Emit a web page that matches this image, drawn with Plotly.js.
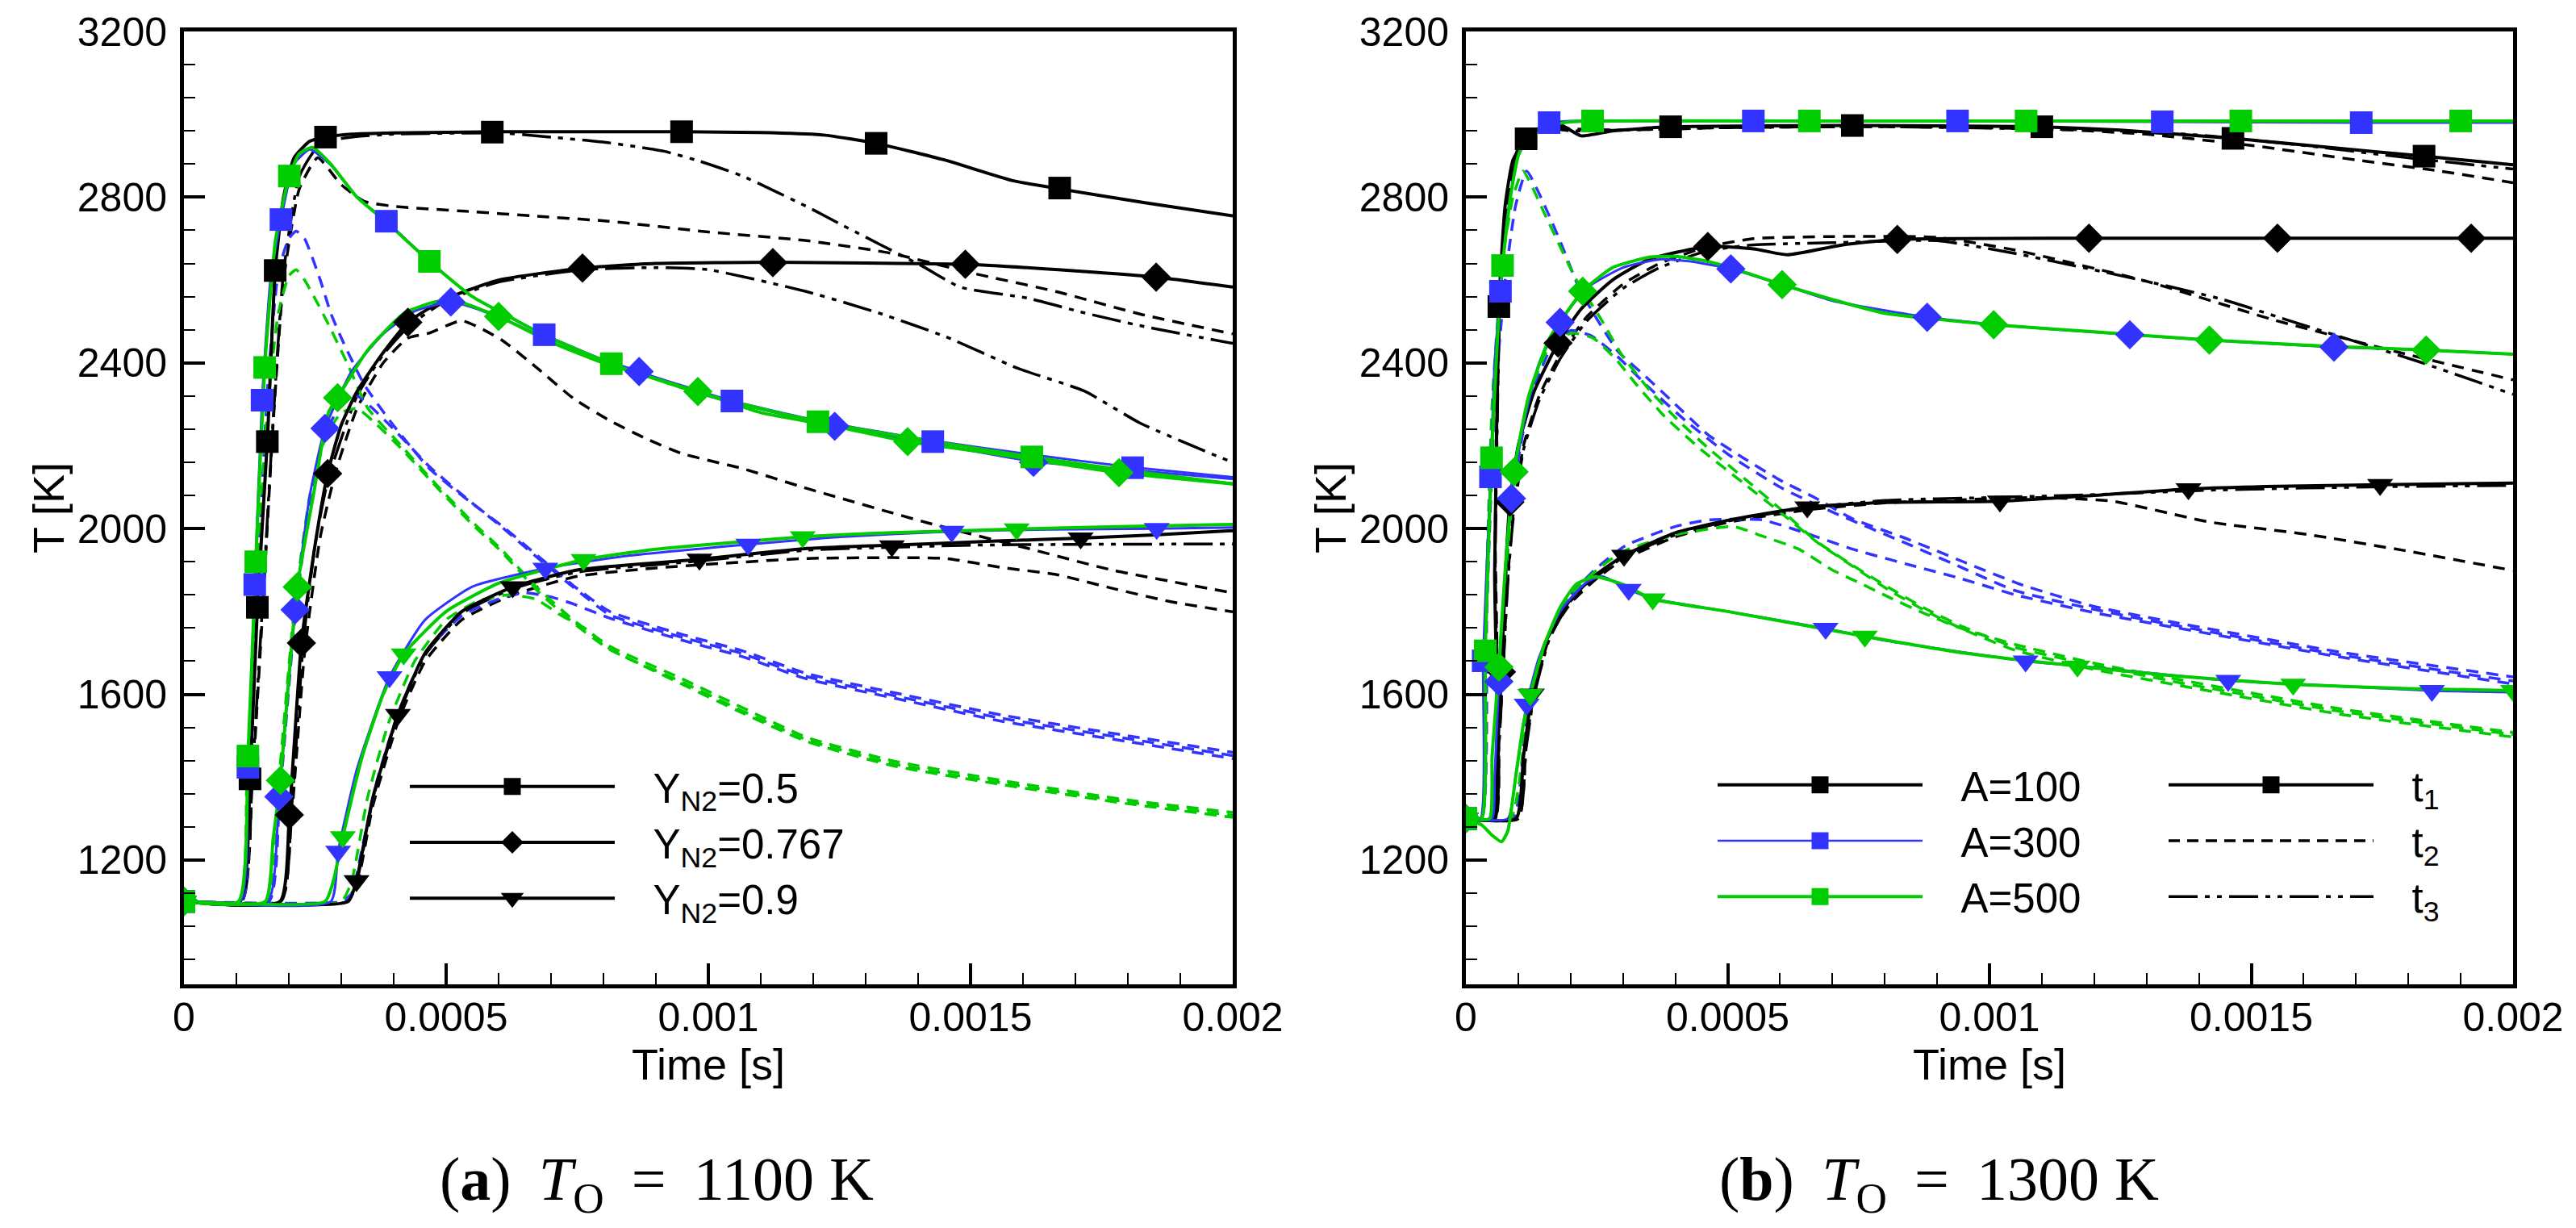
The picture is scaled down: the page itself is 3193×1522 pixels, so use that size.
<!DOCTYPE html>
<html><head><meta charset="utf-8">
<script src="https://cdn.plot.ly/plotly-3.0.1.min.js"></script>
<style>html,body{margin:0;padding:0;background:#fff;}#chart{width:3193px;height:1522px;}</style>
</head><body><div id="chart"></div>
<script>
// ===== Panel (a): T_O = 1100 K =====
// A=100 (black)
const a_k_sq_t1_x = [0,1.07e-4,1.26e-4,1.40e-4,1.59e-4,1.74e-4,1.9e-4,2.1e-4,2.4e-4,2.7e-4,3.2e-4,4e-4,6e-4,8e-4,9.5e-4,11e-4,12.2e-4,13.2e-4,14.5e-4,15.8e-4,16.7e-4,18.3e-4,20e-4];
const a_k_sq_t1_y = [1100,1100,1396,1810,2210,2623,2800,2895,2935,2945,2952,2955,2958,2958,2958,2956,2950,2930,2890,2840,2820,2787,2755];
const a_k_sq_m_x = [0,1.26e-4,1.40e-4,1.59e-4,1.74e-4,2.7e-4,5.88e-4,9.49e-4,13.2e-4,16.7e-4];
const a_k_sq_m_y = [1100,1396,1810,2210,2623,2945,2957,2958,2930,2822];
const a_k_sq_t2_x = [0,1.1e-4,1.3e-4,1.5e-4,1.7e-4,1.9e-4,2.2e-4,2.55e-4,3.0e-4,3.44e-4,4e-4,5.37e-4,6.74e-4,8.1e-4,10e-4,11.88e-4,13.47e-4,15.06e-4,16.64e-4,18.23e-4,20e-4];
const a_k_sq_t2_y = [1100,1100,1380,1800,2250,2600,2820,2895,2830,2790,2778,2766,2754,2742,2716,2695,2665,2616,2572,2518,2470];
const a_k_sq_t3_x = [0,1.1e-4,1.3e-4,1.5e-4,1.7e-4,1.9e-4,2.2e-4,2.6e-4,3.2e-4,4e-4,6e-4,6.74e-4,8.12e-4,9.15e-4,9.83e-4,10.65e-4,11.93e-4,12.5e-4,14.1e-4,14.8e-4,16.1e-4,17.1e-4,18.23e-4,20e-4];
const a_k_sq_t3_y = [1100,1100,1400,1820,2260,2620,2850,2930,2945,2952,2955,2948,2931,2911,2887,2851,2774,2736,2632,2583,2556,2523,2490,2447];

const a_k_di_t1_x = [0,1.83e-4,2.01e-4,2.24e-4,2.5e-4,2.74e-4,3.0e-4,3.3e-4,3.72e-4,4.27e-4,5e-4,6e-4,7.6e-4,9e-4,11.23e-4,13e-4,14.9e-4,17e-4,18.54e-4,20e-4];
const a_k_di_t1_y = [1100,1100,1309,1724,1960,2133,2250,2331,2411,2498,2555,2600,2629,2640,2643,2641,2638,2622,2607,2583];
const a_k_di_m_x = [0,2.01e-4,2.24e-4,2.74e-4,4.27e-4,7.6e-4,11.23e-4,14.9e-4,18.54e-4];
const a_k_di_m_y = [1100,1309,1724,2133,2498,2629,2642,2638,2607];
const a_k_di_t2_x = [0,1.85e-4,2.05e-4,2.3e-4,2.6e-4,2.9e-4,3.3e-4,3.8e-4,4.27e-4,4.68e-4,5.3e-4,6.05e-4,6.74e-4,7.43e-4,8.1e-4,8.8e-4,9.5e-4,10.65e-4,11.88e-4,14.15e-4,16.1e-4,17.7e-4,20e-4];
const a_k_di_t2_y = [1100,1100,1300,1700,1980,2140,2290,2400,2460,2472,2502,2456,2387,2314,2262,2218,2181,2145,2097,2015,1952,1900,1845];
const a_k_di_t3_x = [0,1.85e-4,2.05e-4,2.28e-4,2.5e-4,2.75e-4,3.3e-4,3.8e-4,4.3e-4,5e-4,6e-4,7.6e-4,9e-4,10e-4,11.88e-4,13.26e-4,14.53e-4,15.9e-4,17.17e-4,18.23e-4,19.72e-4,20e-4];
const a_k_di_t3_y = [1100,1100,1320,1730,1960,2120,2320,2420,2490,2550,2595,2625,2630,2625,2572,2520,2463,2387,2332,2255,2174,2160];

const a_k_tr_t1_x = [0,3.13e-4,3.29e-4,3.6e-4,4.08e-4,4.6e-4,5.3e-4,6.27e-4,7.5e-4,9.83e-4,11.88e-4,13.5e-4,15.5e-4,17.1e-4,18.5e-4,20e-4];
const a_k_tr_t1_y = [1100,1100,1150,1350,1551,1700,1800,1859,1900,1926,1952,1960,1970,1977,1985,1995];
const a_k_tr_m_x = [0,3.29e-4,4.08e-4,6.27e-4,9.83e-4,13.5e-4,17.1e-4];
const a_k_tr_m_y = [1100,1150,1551,1859,1926,1958,1977];
const a_k_tr_t2_x = [0,3.1e-4,3.3e-4,3.6e-4,4.1e-4,4.6e-4,5.3e-4,6.27e-4,7.5e-4,9e-4,10.5e-4,11.88e-4,13.5e-4,14.53e-4,15.6e-4,16.64e-4,17.7e-4,18.8e-4,20e-4];
const a_k_tr_t2_y = [1100,1100,1140,1330,1540,1680,1780,1840,1885,1905,1918,1928,1930,1928,1906,1889,1856,1824,1799];
const a_k_tr_t3_x = [0,3.12e-4,3.3e-4,3.6e-4,4.08e-4,4.6e-4,5.3e-4,6.27e-4,7.5e-4,9.83e-4,11.88e-4,13.5e-4,15e-4,17e-4,20e-4];
const a_k_tr_t3_y = [1100,1100,1150,1345,1548,1695,1795,1855,1895,1922,1948,1955,1960,1962,1963];

// A=300 (blue)
const a_b_sq_t1_x = [0,1.07e-4,1.22e-4,1.35e-4,1.49e-4,1.65e-4,1.85e-4,2.1e-4,2.4e-4,2.8e-4,3.3e-4,3.86e-4,4.68e-4,5.5e-4,6.3e-4,6.87e-4,8.15e-4,9.5e-4,10.45e-4,12.1e-4,14.28e-4,16.2e-4,18.09e-4,20e-4];
const a_b_sq_t1_y = [1100,1100,1424,1865,2310,2600,2746,2880,2915,2878,2800,2742,2645,2560,2505,2468,2400,2345,2308,2260,2212,2178,2148,2124];
const a_b_sq_m_x = [0,1.22e-4,1.35e-4,1.49e-4,1.85e-4,3.86e-4,6.87e-4,10.45e-4,14.28e-4,18.09e-4];
const a_b_sq_m_y = [1100,1424,1865,2310,2746,2742,2468,2308,2210,2147];
const a_b_di_t1_x = [0,1.6e-4,1.81e-4,2.12e-4,2.4e-4,2.69e-4,3.2e-4,3.8e-4,4.4e-4,5.09e-4,5.6e-4,6.3e-4,7.2e-4,8.68e-4,10e-4,12.41e-4,14.28e-4,16.2e-4,18e-4,20e-4];
const a_b_di_t1_y = [1100,1100,1353,1804,2080,2242,2380,2470,2525,2547,2530,2495,2440,2379,2320,2247,2205,2162,2142,2120];
const a_b_di_m_x = [0,1.81e-4,2.12e-4,2.69e-4,5.09e-4,8.68e-4,12.41e-4,16.2e-4];
const a_b_di_m_y = [1100,1353,1804,2242,2547,2379,2247,2160];
const a_b_tr_t1_x = [0,2.8e-4,2.94e-4,3.3e-4,3.92e-4,4.6e-4,5.5e-4,6.89e-4,8.5e-4,10.76e-4,12.5e-4,14.64e-4,16.5e-4,18.55e-4,20e-4];
const a_b_tr_t1_y = [1100,1100,1221,1420,1642,1780,1860,1904,1935,1962,1980,1993,1998,2000,2003];
const a_b_tr_m_x = [0,2.94e-4,3.92e-4,6.89e-4,10.76e-4,14.64e-4,18.55e-4];
const a_b_tr_m_y = [1100,1221,1642,1904,1962,1993,2000];
const a_b_sq_t2_x = [0,1.1e-4,1.25e-4,1.4e-4,1.6e-4,1.8e-4,2.0e-4,2.14e-4,2.3e-4,2.6e-4,2.8e-4,3.03e-4,3.44e-4,3.99e-4,4.68e-4,5.37e-4,6.05e-4,6.74e-4,7.43e-4,8.12e-4,9.49e-4,10.65e-4,11.88e-4,13.5e-4,15.6e-4,18e-4,20e-4];
const a_b_sq_t2_y = [1100,1100,1420,1860,2350,2620,2700,2718,2700,2600,2520,2452,2347,2250,2145,2073,2008,1935,1862,1800,1745,1705,1650,1605,1550,1500,1460];
const a_b_di_t2_x = [0,1.62e-4,1.82e-4,2.12e-4,2.4e-4,2.7e-4,3.0e-4,3.3e-4,3.6e-4,4.0e-4,4.68e-4,5.37e-4,6.05e-4,6.74e-4,7.43e-4,8.12e-4,9.49e-4,10.65e-4,11.88e-4,13.5e-4,15.6e-4,18e-4,20e-4];
const a_b_di_t2_y = [1100,1100,1340,1790,2060,2230,2300,2320,2290,2240,2150,2075,2005,1930,1858,1792,1738,1698,1643,1598,1542,1493,1452];
const a_b_tr_t2_x = [0,3.0e-4,3.2e-4,3.4e-4,3.7e-4,4.1e-4,4.6e-4,5.3e-4,6.0e-4,6.5e-4,7.0e-4,7.43e-4,8.12e-4,9.49e-4,10.65e-4,11.88e-4,13.5e-4,15.6e-4,18e-4,20e-4];
const a_b_tr_t2_y = [1100,1100,1120,1230,1400,1560,1700,1790,1830,1845,1835,1818,1784,1731,1691,1637,1592,1535,1486,1445];

// A=500 (green)
const a_g_sq_t1_x = [0,1.04e-4,1.22e-4,1.37e-4,1.54e-4,1.75e-4,2.01e-4,2.2e-4,2.45e-4,2.8e-4,3.3e-4,3.86e-4,4.68e-4,5.5e-4,6.3e-4,6.9e-4,8.15e-4,9.5e-4,10.5e-4,12.09e-4,14.3e-4,16.17e-4,18e-4,20e-4];
const a_g_sq_t1_y = [1100,1100,1451,1920,2389,2700,2851,2905,2920,2880,2800,2740,2645,2560,2505,2465,2398,2340,2305,2258,2210,2173,2140,2108];
const a_g_sq_m_x = [0,1.22e-4,1.37e-4,1.54e-4,2.01e-4,4.68e-4,8.15e-4,12.09e-4,16.17e-4];
const a_g_sq_m_y = [1100,1451,1920,2389,2851,2645,2398,2258,2173];
const a_g_di_t1_x = [0,1.55e-4,1.7e-4,1.84e-4,2.0e-4,2.16e-4,2.48e-4,2.76e-4,2.93e-4,3.5e-4,4.2e-4,4.82e-4,5.3e-4,6.0e-4,7e-4,8e-4,9.8e-4,11e-4,12.41e-4,13.8e-4,15.5e-4,17.83e-4,20e-4];
const a_g_di_t1_y = [1100,1100,1250,1392,1640,1859,2089,2282,2316,2430,2520,2548,2545,2512,2450,2400,2331,2280,2247,2210,2180,2135,2108];
const a_g_di_m_x = [0,1.84e-4,2.16e-4,2.93e-4,6.0e-4,9.8e-4,13.8e-4,17.83e-4];
const a_g_di_m_y = [1100,1392,1859,2316,2512,2331,2210,2135];
const a_g_tr_t1_x = [0,2.69e-4,2.85e-4,3.03e-4,3.4e-4,3.8e-4,4.19e-4,5e-4,6e-4,7.62e-4,9e-4,11.8e-4,13.5e-4,15.88e-4,18e-4,20e-4];
const a_g_tr_t1_y = [1100,1100,1150,1256,1450,1600,1697,1800,1868,1925,1950,1980,1990,1999,2005,2010];
const a_g_tr_m_x = [0,3.03e-4,4.19e-4,7.62e-4,11.8e-4,15.88e-4];
const a_g_tr_m_y = [1100,1256,1697,1925,1980,1999];
const a_g_sq_t2_x = [0,1.05e-4,1.2e-4,1.4e-4,1.6e-4,1.8e-4,2.0e-4,2.14e-4,2.3e-4,2.48e-4,2.76e-4,3.1e-4,3.51e-4,4.13e-4,4.82e-4,5.5e-4,6.05e-4,6.74e-4,7.43e-4,8.12e-4,9.49e-4,10.65e-4,11.88e-4,13.5e-4,15.6e-4,18e-4,20e-4];
const a_g_sq_t2_y = [1100,1100,1400,1900,2300,2520,2610,2625,2600,2560,2492,2403,2290,2202,2105,2016,1950,1857,1779,1716,1638,1568,1496,1440,1392,1345,1315];
const a_g_di_t2_x = [0,1.58e-4,1.8e-4,2.1e-4,2.4e-4,2.7e-4,3.0e-4,3.3e-4,3.6e-4,4.13e-4,4.82e-4,5.5e-4,6.05e-4,6.74e-4,7.43e-4,8.12e-4,9.49e-4,10.65e-4,11.88e-4,13.5e-4,15.6e-4,18e-4,20e-4];
const a_g_di_t2_y = [1100,1100,1380,1800,2080,2220,2280,2290,2260,2195,2100,2010,1945,1850,1772,1708,1630,1560,1490,1433,1386,1340,1308];
const a_g_tr_t2_x = [0,3.0e-4,3.2e-4,3.5e-4,3.9e-4,4.4e-4,5.0e-4,5.6e-4,6.2e-4,6.7e-4,7.2e-4,7.7e-4,8.12e-4,9.49e-4,10.65e-4,11.88e-4,13.5e-4,15.6e-4,18e-4,20e-4];
const a_g_tr_t2_y = [1100,1100,1150,1350,1530,1680,1780,1825,1840,1830,1790,1755,1710,1625,1555,1486,1428,1382,1336,1303];

// ===== Panel (b): T_O = 1300 K =====
const b_k_sq_t1_x = [0,0.5e-4,0.55e-4,0.63e-4,0.75e-4,0.9e-4,1.15e-4,1.4e-4,1.8e-4,2.2e-4,2.8e-4,3.91e-4,5.5e-4,7.38e-4,9e-4,11e-4,12.5e-4,14.65e-4,16.5e-4,18.3e-4,20e-4];
const b_k_sq_t1_y = [1300,1300,1900,2536,2780,2890,2941,2965,2975,2948,2960,2970,2972,2973,2972,2970,2962,2942,2920,2899,2878];
const b_k_sq_m_x = [0,0.63e-4,1.15e-4,3.91e-4,7.38e-4,11e-4,14.65e-4,18.3e-4];
const b_k_sq_m_y = [1300,2536,2941,2970,2973,2970,2942,2899];
const b_k_sq_t2_x = [0,0.5e-4,0.56e-4,0.65e-4,0.8e-4,1.0e-4,1.2e-4,1.6e-4,2.0e-4,3e-4,5e-4,8e-4,11e-4,13e-4,15e-4,17e-4,18.5e-4,20e-4];
const b_k_sq_t2_y = [1300,1300,2000,2550,2800,2920,2950,2968,2965,2962,2968,2970,2965,2952,2925,2890,2865,2835];
const b_k_sq_t3_x = [0,0.5e-4,0.56e-4,0.65e-4,0.8e-4,1.0e-4,1.2e-4,1.6e-4,2.0e-4,3e-4,5e-4,8e-4,12e-4,14e-4,16e-4,18e-4,20e-4];
const b_k_sq_t3_y = [1300,1300,1950,2540,2790,2910,2945,2965,2960,2962,2968,2970,2962,2950,2925,2895,2868];

const b_k_di_t1_x = [0,0.55e-4,0.62e-4,0.68e-4,0.76e-4,0.84e-4,1.0e-4,1.3e-4,1.76e-4,2.2e-4,2.8e-4,3.5e-4,4.62e-4,5.5e-4,6.14e-4,7.2e-4,8.24e-4,11.9e-4,15.5e-4,19.2e-4,20e-4];
const b_k_di_t1_y = [1300,1300,1500,1654,1900,2064,2200,2330,2448,2530,2600,2650,2681,2675,2661,2685,2698,2701,2701,2701,2701];
const b_k_di_m_x = [0,0.68e-4,0.84e-4,1.76e-4,4.62e-4,8.24e-4,11.9e-4,15.5e-4,19.2e-4];
const b_k_di_m_y = [1300,1654,2064,2448,2681,2698,2701,2701,2701];
const b_k_di_t2_x = [0,0.56e-4,0.63e-4,0.7e-4,0.8e-4,0.9e-4,1.1e-4,1.4e-4,1.8e-4,2.3e-4,3e-4,3.7e-4,4.6e-4,5.5e-4,7e-4,9e-4,10.5e-4,13e-4,15.45e-4,17.9e-4,20e-4];
const b_k_di_t2_y = [1300,1300,1480,1640,1880,2030,2200,2320,2420,2510,2590,2640,2680,2700,2705,2703,2672,2597,2503,2423,2359];
const b_k_di_t3_x = [0,0.56e-4,0.63e-4,0.7e-4,0.8e-4,0.9e-4,1.1e-4,1.4e-4,1.8e-4,2.3e-4,3e-4,3.7e-4,4.6e-4,5.5e-4,7e-4,9e-4,10.5e-4,13e-4,14.46e-4,15.7e-4,18.2e-4,20e-4];
const b_k_di_t3_y = [1300,1300,1470,1630,1870,2020,2190,2310,2410,2500,2580,2630,2670,2685,2690,2695,2664,2597,2553,2503,2403,2324];

const b_k_tr_t1_x = [0,0.96e-4,1.1e-4,1.26e-4,1.5e-4,2.0e-4,2.5e-4,3.02e-4,4e-4,5e-4,6.52e-4,8e-4,10.2e-4,12e-4,13.8e-4,15.5e-4,17.46e-4,20e-4];
const b_k_tr_t1_y = [1300,1300,1450,1600,1720,1830,1890,1935,1990,2020,2052,2063,2066,2080,2096,2102,2106,2110];
const b_k_tr_m_x = [0,1.26e-4,3.02e-4,6.52e-4,10.2e-4,13.8e-4,17.46e-4];
const b_k_tr_m_y = [1300,1600,1935,2052,2066,2096,2106];
const b_k_tr_t2_x = [0,1.0e-4,1.15e-4,1.3e-4,1.6e-4,2.0e-4,2.5e-4,3.0e-4,4e-4,5e-4,6.5e-4,8e-4,10e-4,11e-4,12.36e-4,14.2e-4,16.07e-4,17.93e-4,20e-4];
const b_k_tr_t2_y = [1300,1300,1480,1600,1740,1820,1880,1925,1980,2015,2045,2062,2072,2075,2066,2016,1986,1947,1899];
const b_k_tr_t3_x = [0,1.0e-4,1.15e-4,1.3e-4,1.6e-4,2.0e-4,2.5e-4,3.0e-4,4e-4,5e-4,6.5e-4,8e-4,10e-4,12e-4,14e-4,16e-4,18e-4,20e-4];
const b_k_tr_t3_y = [1300,1300,1470,1595,1735,1825,1885,1930,1985,2018,2050,2068,2075,2082,2092,2098,2102,2104];

const b_b_sq_t1_x = [0,0.28e-4,0.33e-4,0.47e-4,0.55e-4,0.66e-4,0.8e-4,1.0e-4,1.3e-4,1.59e-4,2.0e-4,3e-4,5.49e-4,9.39e-4,13.3e-4,17.1e-4,20e-4];
const b_b_sq_t1_y = [1300,1300,1690,2125,2400,2573,2760,2900,2960,2980,2984,2984,2984,2984,2982,2980,2980];
const b_b_sq_m_x = [0,0.33e-4,0.47e-4,0.66e-4,1.59e-4,5.49e-4,9.39e-4,13.3e-4,17.1e-4];
const b_b_sq_m_y = [1300,1681,2125,2573,2980,2984,2984,2982,2980];
const b_b_di_t1_x = [0,0.5e-4,0.55e-4,0.63e-4,0.75e-4,0.87e-4,1.1e-4,1.4e-4,1.8e-4,2.3e-4,3.0e-4,3.7e-4,4.3e-4,5.06e-4,6.04e-4,7e-4,8.81e-4,10.5e-4,12.68e-4,14.2e-4,16.58e-4,18.34e-4,20e-4];
const b_b_di_t1_y = [1300,1300,1400,1631,1900,2073,2250,2400,2498,2580,2630,2650,2645,2627,2589,2550,2510,2488,2468,2455,2438,2431,2421];
const b_b_di_m_x = [0,0.63e-4,0.87e-4,1.8e-4,5.06e-4,8.81e-4,12.68e-4,16.58e-4];
const b_b_di_m_y = [1300,1631,2073,2498,2627,2510,2468,2438];
const b_b_tr_t1_x = [0,0.8e-4,0.95e-4,1.16e-4,1.4e-4,1.8e-4,2.3e-4,2.6e-4,3.11e-4,3.6e-4,5e-4,6.87e-4,8e-4,10.69e-4,12e-4,14.56e-4,16e-4,18.45e-4,20e-4];
const b_b_tr_t1_y = [1300,1300,1400,1576,1690,1800,1870,1885,1853,1830,1800,1759,1730,1680,1665,1633,1624,1609,1605];
const b_b_tr_m_x = [0,1.16e-4,3.11e-4,6.87e-4,10.69e-4,14.56e-4,18.45e-4];
const b_b_tr_m_y = [1300,1576,1853,1759,1680,1633,1609];
const b_b_sq_t2_x = [0,0.3e-4,0.4e-4,0.55e-4,0.75e-4,0.95e-4,1.16e-4,1.61e-4,1.88e-4,2.16e-4,2.57e-4,2.91e-4,3.4e-4,3.95e-4,4.63e-4,5.32e-4,6.0e-4,6.69e-4,7.38e-4,8.41e-4,9.5e-4,10.6e-4,12e-4,13.6e-4,16.7e-4,20e-4];
const b_b_sq_t2_y = [1300,1300,1800,2300,2600,2780,2863,2750,2669,2581,2492,2427,2371,2306,2226,2169,2117,2073,2024,1976,1920,1865,1812,1772,1702,1642];
const b_b_di_t2_x = [0,0.5e-4,0.63e-4,0.87e-4,1.2e-4,1.6e-4,2.0e-4,2.4e-4,2.9e-4,3.5e-4,4.2e-4,5e-4,6e-4,7e-4,8.4e-4,9.4e-4,10.5e-4,12e-4,13.6e-4,16.7e-4,20e-4];
const b_b_di_t2_y = [1300,1300,1620,2060,2300,2430,2478,2465,2415,2340,2260,2180,2100,2040,1965,1910,1850,1805,1765,1695,1632];
const b_b_tr_t2_x = [0,0.9e-4,1.16e-4,1.5e-4,2.0e-4,2.5e-4,3.05e-4,4e-4,4.63e-4,5.66e-4,6.35e-4,7.4e-4,8.4e-4,9.44e-4,10.5e-4,12e-4,13.6e-4,16.7e-4,20e-4];
const b_b_tr_t2_y = [1300,1300,1560,1720,1840,1905,1959,2005,2021,2021,1995,1950,1915,1880,1840,1797,1760,1690,1625];

const b_g_sq_t1_x = [0,0.3e-4,0.37e-4,0.49e-4,0.6e-4,0.7e-4,0.85e-4,1.0e-4,1.2e-4,1.5e-4,2.0e-4,2.42e-4,6.56e-4,10.7e-4,14.8e-4,19.0e-4,20e-4];
const b_g_sq_t1_y = [1300,1300,1705,2171,2450,2635,2800,2900,2950,2972,2982,2984,2984,2984,2984,2984,2984];
const b_g_sq_m_x = [0,0.37e-4,0.49e-4,0.7e-4,2.42e-4,6.56e-4,10.7e-4,14.8e-4,19.0e-4];
const b_g_sq_m_y = [1300,1705,2171,2635,2984,2984,2984,2984,2984];
const b_g_di_t1_x = [0,0.45e-4,0.5e-4,0.63e-4,0.75e-4,0.92e-4,1.2e-4,1.6e-4,2.23e-4,2.8e-4,3.5e-4,4.0e-4,4.62e-4,5.3e-4,6.04e-4,7e-4,8e-4,10.08e-4,12e-4,14.2e-4,16.5e-4,18.34e-4,20e-4];
const b_g_di_t1_y = [1300,1300,1450,1666,1900,2137,2320,2460,2573,2630,2655,2657,2645,2620,2589,2553,2520,2492,2475,2455,2440,2431,2421];
const b_g_di_m_x = [0,0.63e-4,0.92e-4,2.23e-4,6.04e-4,10.08e-4,14.2e-4,18.34e-4];
const b_g_di_m_y = [1300,1666,2137,2573,2589,2492,2455,2431];
const b_g_tr_t1_x = [0,0.3e-4,0.5e-4,0.68e-4,0.8e-4,0.95e-4,1.1e-4,1.23e-4,1.5e-4,1.8e-4,2.1e-4,2.47e-4,3.0e-4,3.57e-4,5e-4,7.62e-4,9.5e-4,11.68e-4,13.5e-4,15.8e-4,18e-4,20e-4];
const b_g_tr_t1_y = [1300,1285,1260,1244,1270,1400,1530,1599,1720,1810,1865,1884,1865,1830,1800,1740,1700,1668,1645,1624,1614,1609];
const b_g_tr_m_x = [0,1.23e-4,3.57e-4,7.62e-4,11.68e-4,15.8e-4,20e-4];
const b_g_tr_m_y = [1300,1599,1830,1740,1668,1624,1609];
const b_g_sq_t2_x = [0,0.28e-4,0.38e-4,0.5e-4,0.7e-4,0.9e-4,1.09e-4,1.54e-4,2.09e-4,2.57e-4,2.98e-4,3.53e-4,4.08e-4,4.63e-4,5.32e-4,6.0e-4,6.69e-4,7.38e-4,8.07e-4,8.76e-4,9.44e-4,10.5e-4,12e-4,13.6e-4,16.69e-4,20e-4];
const b_g_sq_t2_y = [1300,1300,1800,2300,2650,2800,2863,2750,2605,2508,2419,2331,2258,2194,2121,2048,1970,1912,1858,1808,1766,1713,1670,1629,1559,1503];
const b_g_di_t2_x = [0,0.45e-4,0.63e-4,0.92e-4,1.2e-4,1.6e-4,2.02e-4,2.43e-4,2.85e-4,3.26e-4,3.8e-4,4.5e-4,5.3e-4,6e-4,6.7e-4,7.4e-4,8.1e-4,8.8e-4,9.44e-4,10.5e-4,12e-4,13.6e-4,16.7e-4,20e-4];
const b_g_di_t2_y = [1300,1300,1650,2120,2320,2440,2472,2460,2411,2347,2270,2190,2110,2040,1968,1908,1850,1800,1760,1706,1660,1622,1552,1497];
const b_g_tr_t2_x = [0,0.85e-4,1.2e-4,1.5e-4,2.0e-4,2.5e-4,3.0e-4,4.0e-4,5.11e-4,5.66e-4,6.35e-4,7e-4,7.5e-4,8.07e-4,8.76e-4,9.44e-4,10.5e-4,12e-4,13.6e-4,16.7e-4,20e-4];
const b_g_tr_t2_y = [1300,1300,1580,1720,1840,1900,1945,1985,2005,1982,1951,1900,1870,1835,1795,1760,1720,1675,1636,1565,1508];

// ===== labels =====
const legendY = ['Y<sub>N2</sub>=0.5', 'Y<sub>N2</sub>=0.767', 'Y<sub>N2</sub>=0.9'];
const legendA = ['A=100', 'A=300', 'A=500'];
const legendT = ['t<sub>1</sub>', 't<sub>2</sub>', 't<sub>3</sub>'];
const xTickFormat = '~g';
const captions = ['(<b>a</b>)\u2009 <i>T</i><sub>O</sub> \u2009= \u20091100 K', '(<b>b</b>)\u2009 <i>T</i><sub>O</sub> \u2009= \u20091300 K'];
const axisTitles = {x: 'Time [s]', y: 'T [K]'};

// ===== styles =====
const K = '#000000', B = '#3333ff', G = '#00cc00';
const D2 = '15px,10px';
const D3 = '36px,9px,6px,9px,6px,9px';
const W = {k: 4, b: 3, g: 4, d: 3.5};
const MS = 28;
const SP = '\u00a0';

const traces = [];
function line(x, y, color, width, dash, p) {
  traces.push({x: x, y: y, mode: 'lines', line: {color: color, width: width, dash: dash, shape: 'spline', smoothing: 0.5},
    xaxis: p === 'a' ? 'x' : 'x2', yaxis: p === 'a' ? 'y' : 'y2', showlegend: false, hoverinfo: 'skip'});
}
function marks(x, y, color, symbol, p) {
  traces.push({x: x, y: y, mode: 'markers', marker: {color: color, symbol: symbol, size: MS, line: {width: 0}},
    xaxis: p === 'a' ? 'x' : 'x2', yaxis: p === 'a' ? 'y' : 'y2', showlegend: false, hoverinfo: 'skip'});
}

// panel a: dashed / dash-dot first
line(a_k_sq_t2_x, a_k_sq_t2_y, K, W.d, D2, 'a');
line(a_k_sq_t3_x, a_k_sq_t3_y, K, W.d, D3, 'a');
line(a_k_di_t2_x, a_k_di_t2_y, K, W.d, D2, 'a');
line(a_k_di_t3_x, a_k_di_t3_y, K, W.d, D3, 'a');
line(a_k_tr_t2_x, a_k_tr_t2_y, K, W.d, D2, 'a');
line(a_k_tr_t3_x, a_k_tr_t3_y, K, W.d, D3, 'a');
line(a_b_sq_t2_x, a_b_sq_t2_y, B, W.d, D2, 'a');
line(a_b_di_t2_x, a_b_di_t2_y, B, W.d, D2, 'a');
line(a_b_tr_t2_x, a_b_tr_t2_y, B, W.d, D2, 'a');
line(a_g_sq_t2_x, a_g_sq_t2_y, G, W.d, D2, 'a');
line(a_g_di_t2_x, a_g_di_t2_y, G, W.d, D2, 'a');
line(a_g_tr_t2_x, a_g_tr_t2_y, G, W.d, D2, 'a');
line(a_k_sq_t1_x, a_k_sq_t1_y, K, W.k, 'solid', 'a');
line(a_k_di_t1_x, a_k_di_t1_y, K, W.k, 'solid', 'a');
line(a_k_tr_t1_x, a_k_tr_t1_y, K, W.k, 'solid', 'a');
line(a_b_sq_t1_x, a_b_sq_t1_y, B, W.b, 'solid', 'a');
line(a_b_di_t1_x, a_b_di_t1_y, B, W.b, 'solid', 'a');
line(a_b_tr_t1_x, a_b_tr_t1_y, B, W.b, 'solid', 'a');
line(a_g_sq_t1_x, a_g_sq_t1_y, G, W.g, 'solid', 'a');
line(a_g_di_t1_x, a_g_di_t1_y, G, W.g, 'solid', 'a');
line(a_g_tr_t1_x, a_g_tr_t1_y, G, W.g, 'solid', 'a');
marks(a_k_sq_m_x, a_k_sq_m_y, K, 'square', 'a');
marks(a_k_di_m_x, a_k_di_m_y, K, 'diamond', 'a');
marks(a_k_tr_m_x, a_k_tr_m_y, K, 'triangle-down', 'a');
marks(a_b_sq_m_x, a_b_sq_m_y, B, 'square', 'a');
marks(a_b_di_m_x, a_b_di_m_y, B, 'diamond', 'a');
marks(a_b_tr_m_x, a_b_tr_m_y, B, 'triangle-down', 'a');
marks(a_g_sq_m_x, a_g_sq_m_y, G, 'square', 'a');
marks(a_g_di_m_x, a_g_di_m_y, G, 'diamond', 'a');
marks(a_g_tr_m_x, a_g_tr_m_y, G, 'triangle-down', 'a');

// panel b
line(b_k_sq_t2_x, b_k_sq_t2_y, K, W.d, D2, 'b');
line(b_k_sq_t3_x, b_k_sq_t3_y, K, W.d, D3, 'b');
line(b_k_di_t2_x, b_k_di_t2_y, K, W.d, D2, 'b');
line(b_k_di_t3_x, b_k_di_t3_y, K, W.d, D3, 'b');
line(b_k_tr_t2_x, b_k_tr_t2_y, K, W.d, D2, 'b');
line(b_k_tr_t3_x, b_k_tr_t3_y, K, W.d, D3, 'b');
line(b_b_sq_t2_x, b_b_sq_t2_y, B, W.d, D2, 'b');
line(b_b_di_t2_x, b_b_di_t2_y, B, W.d, D2, 'b');
line(b_b_tr_t2_x, b_b_tr_t2_y, B, W.d, D2, 'b');
line(b_g_sq_t2_x, b_g_sq_t2_y, G, W.d, D2, 'b');
line(b_g_di_t2_x, b_g_di_t2_y, G, W.d, D2, 'b');
line(b_g_tr_t2_x, b_g_tr_t2_y, G, W.d, D2, 'b');
line(b_k_sq_t1_x, b_k_sq_t1_y, K, W.k, 'solid', 'b');
line(b_k_di_t1_x, b_k_di_t1_y, K, W.k, 'solid', 'b');
line(b_k_tr_t1_x, b_k_tr_t1_y, K, W.k, 'solid', 'b');
line(b_b_sq_t1_x, b_b_sq_t1_y, B, W.b, 'solid', 'b');
line(b_b_di_t1_x, b_b_di_t1_y, B, W.b, 'solid', 'b');
line(b_b_tr_t1_x, b_b_tr_t1_y, B, W.b, 'solid', 'b');
line(b_g_sq_t1_x, b_g_sq_t1_y, G, W.g, 'solid', 'b');
line(b_g_di_t1_x, b_g_di_t1_y, G, W.g, 'solid', 'b');
line(b_g_tr_t1_x, b_g_tr_t1_y, G, W.g, 'solid', 'b');
marks(b_k_sq_m_x, b_k_sq_m_y, K, 'square', 'b');
marks(b_k_di_m_x, b_k_di_m_y, K, 'diamond', 'b');
marks(b_k_tr_m_x, b_k_tr_m_y, K, 'triangle-down', 'b');
marks(b_b_sq_m_x, b_b_sq_m_y, B, 'square', 'b');
marks(b_b_di_m_x, b_b_di_m_y, B, 'diamond', 'b');
marks(b_b_tr_m_x, b_b_tr_m_y, B, 'triangle-down', 'b');
marks(b_g_sq_m_x, b_g_sq_m_y, G, 'square', 'b');
marks(b_g_di_m_x, b_g_di_m_y, G, 'diamond', 'b');
marks(b_g_tr_m_x, b_g_tr_m_y, G, 'triangle-down', 'b');

// legend entries (no data)
function leg(name, legendId, color, width, dash, symbol, p) {
  const t = {x: [null], y: [null], name: SP + SP + SP + name, legend: legendId,
    mode: symbol ? 'lines+markers' : 'lines', line: {color: color, width: width, dash: dash},
    xaxis: p === 'a' ? 'x' : 'x2', yaxis: p === 'a' ? 'y' : 'y2', hoverinfo: 'skip'};
  if (symbol) t.marker = {symbol: symbol, size: 16, color: color, line: {color: color, width: 5}};
  traces.push(t);
}
leg(legendY[0], 'legend', K, 4, 'solid', 'square', 'a');
leg(legendY[1], 'legend', K, 4, 'solid', 'diamond', 'a');
leg(legendY[2], 'legend', K, 4, 'solid', 'triangle-down', 'a');
leg(legendA[0], 'legend2', K, 4, 'solid', 'square', 'b');
leg(legendA[1], 'legend2', B, 2.5, 'solid', 'square', 'b');
leg(legendA[2], 'legend2', G, 4, 'solid', 'square', 'b');
leg(legendT[0], 'legend3', K, 4, 'solid', 'square', 'b');
leg(legendT[1], 'legend3', K, 3.5, '14px,9px', null, 'b');
leg(legendT[2], 'legend3', K, 3.5, D3, null, 'b');

const FW = 3193, FH = 1522;
const tickFont = {family: 'Liberation Sans, Arial, sans-serif', size: 50, color: '#000'};
const titleFont = {family: 'Liberation Sans, Arial, sans-serif', size: 54, color: '#000'};
function xAx(d0, d1, anchor) {
  return {domain: [d0 / FW, d1 / FW], anchor: anchor, range: [0, 0.002], tickformat: xTickFormat,
    dtick: 0.0005, tick0: 0, ticks: 'inside', ticklen: 26, tickwidth: 4, tickcolor: '#000',
    minor: {ticks: 'inside', ticklen: 14, tickwidth: 2, tickcolor: '#000', dtick: 0.0001, tick0: 0},
    showline: true, linewidth: 5, linecolor: '#000', mirror: true, showgrid: false, zeroline: false,
    tickfont: tickFont, ticklabelstandoff: -7,
    title: {text: axisTitles.x, font: titleFont, standoff: 14}, automargin: false};
}
function yAx(anchor) {
  return {domain: [1 - 1220 / FH, 1 - 39 / FH], anchor: anchor, range: [900, 3200],
    dtick: 400, tick0: 1200, ticks: 'inside', ticklen: 26, tickwidth: 4, tickcolor: '#000',
    minor: {ticks: 'inside', ticklen: 14, tickwidth: 2, tickcolor: '#000', dtick: 80, tick0: 1200},
    showline: true, linewidth: 5, linecolor: '#000', mirror: true, showgrid: false, zeroline: false,
    tickfont: tickFont, ticklabelstandoff: 6,
    title: {text: axisTitles.y, font: titleFont, standoff: 0}, automargin: false};
}
const legBase = {bgcolor: 'rgba(0,0,0,0)', borderwidth: 0, itemwidth: 254, xanchor: 'left', yanchor: 'top',
  font: {family: 'Liberation Sans, Arial, sans-serif', size: 51, color: '#000'}, itemclick: false, itemdoubleclick: false};

const layout = {
  width: FW, height: FH, margin: {l: 0, r: 0, t: 0, b: 0}, paper_bgcolor: '#fff', plot_bgcolor: '#fff',
  showlegend: true, hovermode: false,
  xaxis: xAx(228, 1528, 'y'), yaxis: yAx('x'),
  xaxis2: xAx(1817, 3115, 'y2'), yaxis2: yAx('x2'),
  legend: Object.assign({}, legBase, {x: 503 / FW, y: 1 - 935 / FH}),
  legend2: Object.assign({}, legBase, {x: 2124 / FW, y: 1 - 933 / FH}),
  legend3: Object.assign({}, legBase, {x: 2683 / FW, y: 1 - 933 / FH}),
  annotations: [
    {text: captions[0], xref: 'paper', yref: 'paper', x: 814 / FW, y: 1 - 1467 / FH, xanchor: 'center', yanchor: 'middle', showarrow: false,
      font: {family: 'Liberation Serif, Times New Roman, serif', size: 76, color: '#000'}},
    {text: captions[1], xref: 'paper', yref: 'paper', x: 2403 / FW, y: 1 - 1467 / FH, xanchor: 'center', yanchor: 'middle', showarrow: false,
      font: {family: 'Liberation Serif, Times New Roman, serif', size: 76, color: '#000'}}
  ]
};
Plotly.newPlot('chart', traces, layout, {staticPlot: true, displayModeBar: false});
</script></body></html>
